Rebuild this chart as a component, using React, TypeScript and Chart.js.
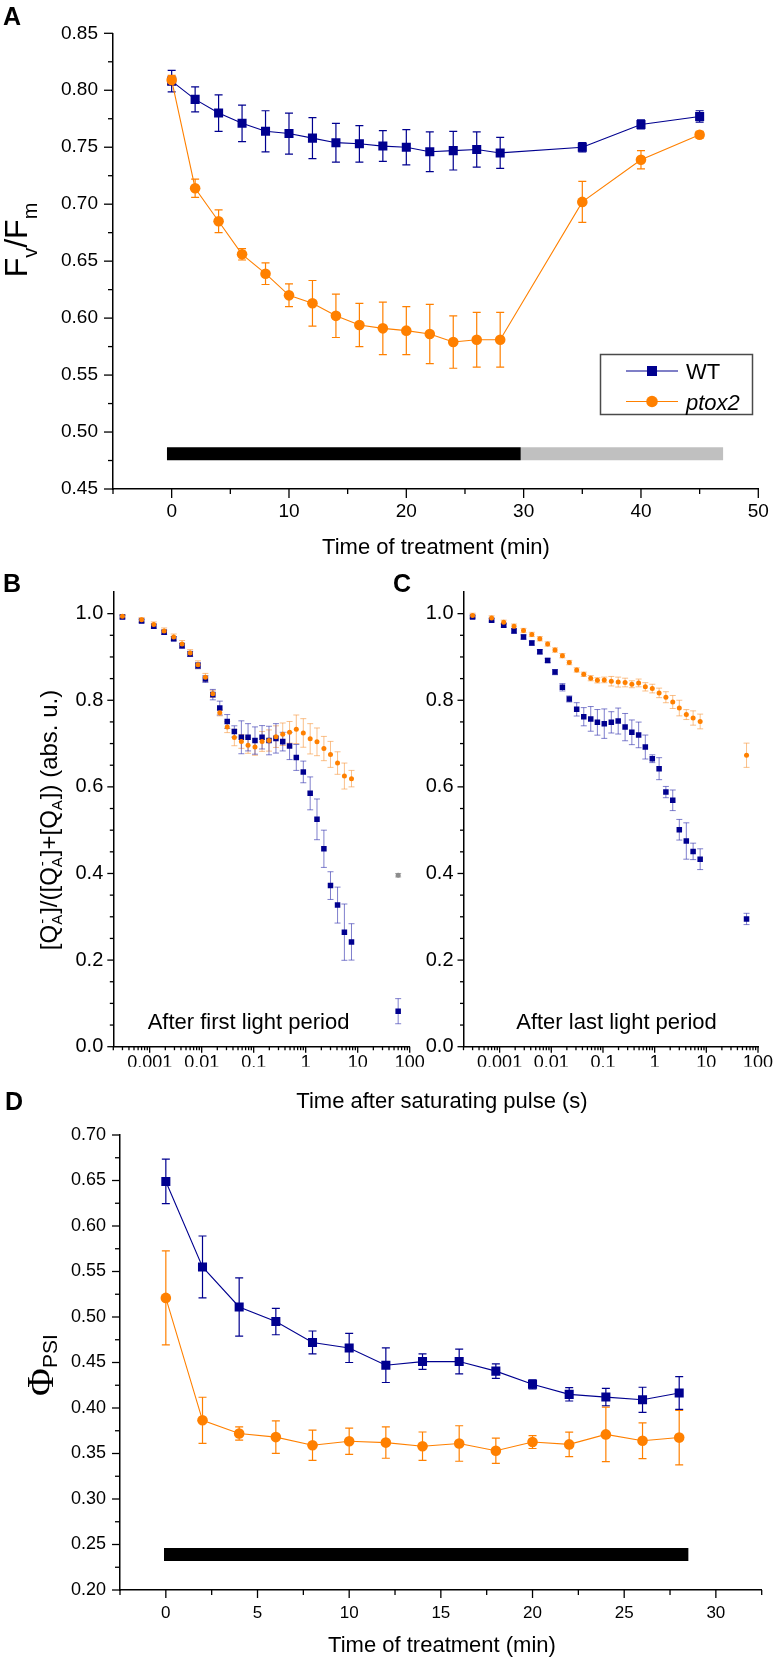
import React, { useEffect, useRef } from 'react';
import { Chart, registerables } from 'chart.js';
Chart.register(...registerables);

const FONT = "'Liberation Sans', Arial, Helvetica, sans-serif";
const SERIF = "'Liberation Serif', 'Times New Roman', serif";
const NAVY = '#00008f';
const ORANGE = '#ff8000';

// ---------- Panel A : Fv/Fm ----------
const timeA = [0, 2, 4, 6, 8, 10, 12, 14, 16, 18, 20, 22, 24, 26, 28, 35, 40, 45];
const wtA = [0.808, 0.792, 0.780, 0.771, 0.764, 0.762, 0.758, 0.754, 0.753, 0.751, 0.750, 0.746, 0.747, 0.748, 0.745, 0.750, 0.770, 0.777];
const wtErrA = [0.0095, 0.011, 0.016, 0.016, 0.018, 0.018, 0.018, 0.017, 0.016, 0.0135, 0.0155, 0.0175, 0.017, 0.0155, 0.0136, 0.004, 0.004, 0.005];
const ptoxA = [0.809, 0.714, 0.685, 0.656, 0.639, 0.620, 0.613, 0.602, 0.594, 0.591, 0.589, 0.586, 0.579, 0.581, 0.581, 0.702, 0.739, 0.761];
const ptoxErrA = [0.004, 0.008, 0.010, 0.005, 0.0095, 0.010, 0.020, 0.019, 0.019, 0.023, 0.021, 0.026, 0.023, 0.024, 0.024, 0.018, 0.008, 0.003];
const darkPeriodA = [-0.4, 29.75];
const lightPeriodA = [29.75, 47];
const periodLevelA = 0.481;
const xTicksA = [0, 10, 20, 30, 40, 50];
const xMinorA = [-5, 5, 15, 25, 35, 45];
const yTicksA = [0.45, 0.5, 0.55, 0.6, 0.65, 0.7, 0.75, 0.8, 0.85];
const yMinorA = [0.475, 0.525, 0.575, 0.625, 0.675, 0.725, 0.775, 0.825];

// ---------- Panels B & C : QA- reoxidation ----------
const timeBC = [0.0003, 0.0007, 0.0012, 0.0019, 0.0029, 0.0042, 0.006, 0.0085, 0.0118, 0.0164, 0.0223, 0.031, 0.0425, 0.058, 0.078, 0.106, 0.145, 0.197, 0.268, 0.362, 0.49, 0.66, 0.9, 1.22, 1.65, 2.24, 3.0, 4.1, 5.55, 7.6, 60];
const wtB = [0.992, 0.983, 0.971, 0.957, 0.942, 0.926, 0.907, 0.880, 0.849, 0.813, 0.782, 0.751, 0.728, 0.7145, 0.7145, 0.707, 0.7145, 0.707, 0.712, 0.7045, 0.6945, 0.668, 0.6345, 0.585, 0.525, 0.457, 0.372, 0.327, 0.2645, 0.242, 0.082];
const wtErrB = [0.004, 0.004, 0.005, 0.005, 0.005, 0.006, 0.006, 0.007, 0.008, 0.012, 0.016, 0.016, 0.013, 0.038, 0.0315, 0.0315, 0.027, 0.033, 0.034, 0.0215, 0.0315, 0.03, 0.025, 0.038, 0.047, 0.043, 0.032, 0.0415, 0.065, 0.042, 0.029];
const ptoxB = [0.994, 0.986, 0.975, 0.960, 0.946, 0.930, 0.909, 0.882, 0.853, 0.815, 0.771, 0.738, 0.714, 0.705, 0.696, 0.692, 0.705, 0.707, 0.716, 0.7215, 0.726, 0.733, 0.7245, 0.711, 0.704, 0.6885, 0.675, 0.655, 0.625, 0.619, 0.396];
const ptoxErrB = [0.004, 0.005, 0.006, 0.007, 0.007, 0.008, 0.008, 0.009, 0.009, 0.008, 0.007, 0.0127, 0.019, 0.016, 0.0185, 0.019, 0.023, 0.0245, 0.025, 0.026, 0.025, 0.033, 0.033, 0.035, 0.032, 0.028, 0.030, 0.026, 0.030, 0.019, 0.004];
const wtC = [0.992, 0.985, 0.973, 0.960, 0.946, 0.932, 0.912, 0.892, 0.865, 0.830, 0.803, 0.779, 0.762, 0.757, 0.749, 0.746, 0.749, 0.752, 0.738, 0.726, 0.720, 0.692, 0.665, 0.642, 0.588, 0.569, 0.501, 0.475, 0.451, 0.433, 0.295];
const wtErrC = [0.003, 0.004, 0.004, 0.005, 0.005, 0.005, 0.005, 0.005, 0.006, 0.0085, 0.007, 0.0154, 0.021, 0.0285, 0.0296, 0.034, 0.0246, 0.030, 0.0315, 0.0285, 0.0296, 0.0277, 0.009, 0.0254, 0.013, 0.0238, 0.0238, 0.042, 0.019, 0.024, 0.013];
const ptoxC = [0.996, 0.990, 0.980, 0.971, 0.961, 0.952, 0.942, 0.930, 0.916, 0.903, 0.887, 0.870, 0.860, 0.851, 0.846, 0.847, 0.844, 0.842, 0.841, 0.837, 0.840, 0.831, 0.827, 0.817, 0.807, 0.796, 0.782, 0.767, 0.759, 0.751, 0.673];
const ptoxErrC = [0.005, 0.005, 0.005, 0.005, 0.005, 0.005, 0.005, 0.005, 0.005, 0.005, 0.005, 0.005, 0.005, 0.006, 0.006, 0.0065, 0.011, 0.0115, 0.010, 0.008, 0.009, 0.0096, 0.010, 0.011, 0.0127, 0.015, 0.018, 0.0115, 0.0165, 0.017, 0.028];
const xTicksBC = [0.001, 0.01, 0.1, 1, 10, 100];
const logDecades = [0.0001, 0.001, 0.01, 0.1, 1, 10];
const logMultipliers = [2, 3, 4, 5, 6, 7, 8, 9];
const yTicksBC = [0, 0.2, 0.4, 0.6, 0.8, 1.0];
const yMinorBC = [0.05, 0.1, 0.15, 0.25, 0.3, 0.35, 0.45, 0.5, 0.55, 0.65, 0.7, 0.75, 0.85, 0.9, 0.95];

// ---------- Panel D : PSI yield ----------
const timeD = [0, 2, 4, 6, 8, 10, 12, 14, 16, 18, 20, 22, 24, 26, 28];
const wtD = [0.649, 0.555, 0.511, 0.495, 0.472, 0.466, 0.447, 0.451, 0.451, 0.4405, 0.426, 0.415, 0.412, 0.409, 0.4165];
const wtErrD = [0.0245, 0.034, 0.032, 0.0145, 0.0126, 0.016, 0.019, 0.0085, 0.0136, 0.008, 0.005, 0.0073, 0.0095, 0.0138, 0.018];
const ptoxD = [0.521, 0.3865, 0.372, 0.368, 0.359, 0.3634, 0.362, 0.358, 0.361, 0.353, 0.3626, 0.360, 0.371, 0.364, 0.3675];
const ptoxErrD = [0.0517, 0.0253, 0.0073, 0.0178, 0.0166, 0.0144, 0.0172, 0.0156, 0.0195, 0.0138, 0.0071, 0.0134, 0.030, 0.0197, 0.030];
const darkPeriodD = [-0.1, 28.5];
const periodLevelD = 0.239;
const xTicksD = [0, 5, 10, 15, 20, 25, 30];
const xMinorD = [-2.5, 2.5, 7.5, 12.5, 17.5, 22.5, 27.5, 32.5];
const yTicksD = [0.2, 0.25, 0.3, 0.35, 0.4, 0.45, 0.5, 0.55, 0.6, 0.65, 0.7];
const yMinorD = [0.225, 0.275, 0.325, 0.375, 0.425, 0.475, 0.525, 0.575, 0.625, 0.675];

// ---------- helpers ----------
const pts = (xs: number[], ys: number[]) => xs.map((x, i) => ({ x, y: ys[i] }));

function axis(o: any) {
  return {
    type: o.type || 'linear',
    min: o.min,
    max: o.max,
    grid: { display: false, drawTicks: false },
    border: { display: true, color: '#000', width: 1.5 },
    ticks: {
      color: '#000',
      font: { family: FONT, size: o.size },
      padding: o.pad,
      autoSkip: false,
      maxRotation: 0,
      minRotation: 0,
      callback: (v: any) => o.fmt(Number(v)),
    },
    afterBuildTicks: (s: any) => {
      s.ticks = o.ticks.map((v: number) => ({ value: v }));
    },
    afterFit: (s: any) => {
      if (o.horiz) s.height = o.thick;
      else s.width = o.thick;
      s.paddingLeft = 0;
      s.paddingRight = 0;
      s.paddingTop = 0;
      s.paddingBottom = 0;
    },
  };
}

const errBars = (cap: number, lw: number) => ({
  id: 'errBars',
  beforeDatasetsDraw(chart: any) {
    const ctx = chart.ctx;
    const xs = chart.scales.x;
    const ys = chart.scales.y;
    chart.data.datasets.forEach((ds: any) => {
      if (!ds.errors) return;
      ds.data.forEach((p: any, j: number) => {
        const e = ds.errors[j];
        const x = xs.getPixelForValue(p.x);
        const y1 = ys.getPixelForValue(p.y + e);
        const y2 = ys.getPixelForValue(p.y - e);
        ctx.save();
        ctx.strokeStyle = Array.isArray(ds.errColor) ? ds.errColor[j] : ds.errColor;
        ctx.lineWidth = lw;
        ctx.beginPath();
        ctx.moveTo(x, y1);
        ctx.lineTo(x, y2);
        ctx.moveTo(x - cap, y1);
        ctx.lineTo(x + cap, y1);
        ctx.moveTo(x - cap, y2);
        ctx.lineTo(x + cap, y2);
        ctx.stroke();
        ctx.restore();
      });
    });
  },
});

const tickMarks = (o: any) => ({
  id: 'tickMarks',
  afterDraw(chart: any) {
    const ctx = chart.ctx;
    const { left, bottom } = chart.chartArea;
    ctx.save();
    ctx.strokeStyle = '#000';
    ctx.lineWidth = 1.3;
    const draw = (ax: string, vals: number[], len: number) => {
      const sc = chart.scales[ax];
      vals.forEach((v) => {
        const p = sc.getPixelForValue(v);
        ctx.beginPath();
        if (ax === 'x') {
          ctx.moveTo(p, bottom);
          ctx.lineTo(p, bottom + len);
        } else {
          ctx.moveTo(left, p);
          ctx.lineTo(left - len, p);
        }
        ctx.stroke();
      });
    };
    draw('x', o.xMajor, o.major);
    draw('x', o.xMinor, o.minor);
    draw('y', o.yMajor, o.major);
    draw('y', o.yMinor, o.minor);
    ctx.restore();
  },
});

const legendA = {
  id: 'legendA',
  afterDraw(chart: any) {
    const ctx = chart.ctx;
    ctx.save();
    ctx.lineWidth = 1.5;
    ctx.strokeStyle = '#4a4a4a';
    ctx.strokeRect(600.5, 354.5, 152, 60);
    const rows = [
      { y: 371, color: NAVY, style: 'rect', label: 'WT', italic: false },
      { y: 401.5, color: ORANGE, style: 'circle', label: 'ptox2', italic: true },
    ];
    rows.forEach((r) => {
      ctx.strokeStyle = r.color;
      ctx.lineWidth = 1.2;
      ctx.beginPath();
      ctx.moveTo(626, r.y);
      ctx.lineTo(678, r.y);
      ctx.stroke();
      ctx.fillStyle = r.color;
      if (r.style === 'rect') ctx.fillRect(652 - 5, r.y - 5, 10, 10);
      else {
        ctx.beginPath();
        ctx.arc(652, r.y, 5.8, 0, Math.PI * 2);
        ctx.fill();
      }
      ctx.fillStyle = '#000';
      ctx.font = `${r.italic ? 'italic ' : ''}22px ${FONT}`;
      ctx.textBaseline = 'alphabetic';
      ctx.fillText(r.label, 686, r.y + 8);
    });
    ctx.restore();
  },
};

const baseOpts = (padding: any, scales: any) => ({
  responsive: false,
  animation: false,
  events: [],
  layout: { padding },
  plugins: { legend: { display: false }, tooltip: { enabled: false } },
  scales,
});

function makeA() {
  return {
    type: 'line',
    data: {
      datasets: [
        {
          data: pts(timeA, ptoxA), errors: ptoxErrA, errColor: ORANGE, order: 1,
          borderColor: ORANGE, borderWidth: 1.1, pointStyle: 'circle', pointRadius: 5.3,
          pointBackgroundColor: ORANGE, pointBorderWidth: 0,
        },
        {
          data: pts(timeA, wtA), errors: wtErrA, errColor: NAVY, order: 2,
          borderColor: NAVY, borderWidth: 1.1, pointStyle: 'rect', pointRadius: 6.4,
          pointBackgroundColor: NAVY, pointBorderWidth: 0,
        },
        {
          data: darkPeriodA.map((x) => ({ x, y: periodLevelA })), order: 3,
          borderColor: '#000', borderWidth: 13, pointRadius: 0, borderCapStyle: 'butt',
        },
        {
          data: lightPeriodA.map((x) => ({ x, y: periodLevelA })), order: 4,
          borderColor: '#c0c0c0', borderWidth: 13, pointRadius: 0, borderCapStyle: 'butt',
        },
      ],
    },
    options: baseOpts({ left: 0, top: 33.3, right: 15.7, bottom: 31 }, {
      x: axis({ min: -5, max: 50, ticks: xTicksA, fmt: (v: number) => String(v), size: 19, pad: 11.3, thick: 60, horiz: true }),
      y: axis({ min: 0.45, max: 0.85, ticks: yTicksA, fmt: (v: number) => v.toFixed(2), size: 19, pad: 15, thick: 113, horiz: false }),
    }),
    plugins: [errBars(4, 1.2), tickMarks({ xMajor: xTicksA, xMinor: xMinorA, yMajor: yTicksA, yMinor: yMinorA, major: 9, minor: 5 }), legendA],
  };
}

const logMinor = () => {
  const out: number[] = [];
  logDecades.forEach((d) => logMultipliers.forEach((m) => {
    const v = d * m;
    if (v >= 0.0002 && v <= 100) out.push(v);
  }));
  return out;
};

function makeBC(wt: number[], wtErr: number[], ptox: number[], ptoxErr: number[], yWidth: number, padRight: number, grayLast: boolean) {
  const n = ptox.length;
  const ptoxColors = ptox.map((_, i) => (grayLast && i === n - 1 ? '#8c8c8c' : ORANGE));
  const ptoxErrColors = ptox.map((_, i) => (grayLast && i === n - 1 ? 'rgba(130,130,130,0.7)' : 'rgba(246,150,60,0.6)'));
  return {
    type: 'line',
    data: {
      datasets: [
        {
          data: pts(timeBC, ptox), errors: ptoxErr, errColor: ptoxErrColors, order: 1, showLine: false,
          pointStyle: 'circle', pointRadius: 2.5, pointBackgroundColor: ptoxColors, pointBorderWidth: 0,
        },
        {
          data: pts(timeBC, wt), errors: wtErr, errColor: 'rgba(50,50,175,0.62)', order: 2, showLine: false,
          pointStyle: 'rect', pointRadius: 3.9, pointBackgroundColor: NAVY, pointBorderWidth: 0,
        },
      ],
    },
    options: baseOpts({ left: 0, top: 32, right: padRight, bottom: 13.3 }, {
      x: axis({ type: 'logarithmic', min: 0.0002, max: 100, ticks: xTicksBC, fmt: (v: number) => String(v), size: 18, pad: 6, thick: 20, horiz: true }),
      y: axis({ min: 0, max: 1.05, ticks: yTicksBC, fmt: (v: number) => v.toFixed(1), size: 20, pad: 10, thick: yWidth, horiz: false }),
    }),
    plugins: [errBars(3, 1), tickMarks({ xMajor: xTicksBC, xMinor: logMinor(), yMajor: yTicksBC, yMinor: yMinorBC, major: 6, minor: 3.5 })],
  };
}

function makeD() {
  return {
    type: 'line',
    data: {
      datasets: [
        {
          data: pts(timeD, ptoxD), errors: ptoxErrD, errColor: ORANGE, order: 1,
          borderColor: ORANGE, borderWidth: 1.1, pointStyle: 'circle', pointRadius: 5.3,
          pointBackgroundColor: ORANGE, pointBorderWidth: 0,
        },
        {
          data: pts(timeD, wtD), errors: wtErrD, errColor: NAVY, order: 2,
          borderColor: NAVY, borderWidth: 1.1, pointStyle: 'rect', pointRadius: 6.4,
          pointBackgroundColor: NAVY, pointBorderWidth: 0,
        },
        {
          data: darkPeriodD.map((x) => ({ x, y: periodLevelD })), order: 3,
          borderColor: '#000', borderWidth: 13, pointRadius: 0, borderCapStyle: 'butt',
        },
      ],
    },
    options: baseOpts({ left: 0, top: 55, right: 12.3, bottom: 30 }, {
      x: axis({ min: -2.5, max: 32.5, ticks: xTicksD, fmt: (v: number) => String(v), size: 17, pad: 13, thick: 40, horiz: true }),
      y: axis({ min: 0.2, max: 0.7, ticks: yTicksD, fmt: (v: number) => v.toFixed(2), size: 18, pad: 14, thick: 120, horiz: false }),
    }),
    plugins: [errBars(4, 1.2), tickMarks({ xMajor: xTicksD, xMinor: xMinorD, yMajor: yTicksD, yMinor: yMinorD, major: 8, minor: 5 })],
  };
}

function ChartBox({ left, top, width, height, make }: any) {
  const ref = useRef<HTMLCanvasElement>(null);
  useEffect(() => {
    const chart = new Chart(ref.current as HTMLCanvasElement, make());
    return () => chart.destroy();
  }, []);
  return <canvas ref={ref} width={width} height={height} style={{ position: 'absolute', left, top, width, height }} />;
}

function Txt({ x, y, size, children, align, bold, italic }: any) {
  const style: any = {
    position: 'absolute', top: y - 0.8465 * size, fontSize: size, lineHeight: size + 'px',
    fontFamily: FONT, whiteSpace: 'nowrap', fontWeight: bold ? 'bold' : 'normal',
    fontStyle: italic ? 'italic' : 'normal', color: '#000',
  };
  if (align === 'center') {
    style.left = x - 400;
    style.width = 800;
    style.textAlign = 'center';
  } else style.left = x;
  return <div style={style}>{children}</div>;
}

function RotTxt({ cx, cy, size, family, children }: any) {
  const w = 400;
  return (
    <div style={{
      position: 'absolute', left: cx - w / 2, top: cy - size / 2, width: w, height: size,
      lineHeight: size + 'px', fontSize: size, fontFamily: family || FONT, textAlign: 'center',
      whiteSpace: 'nowrap', transform: 'rotate(-90deg)', transformOrigin: '50% 50%', color: '#000',
    }}>{children}</div>
  );
}

function SubSup({ sub, sup, fs, subDy, supDy, w }: any) {
  return (
    <span style={{ position: 'relative', display: 'inline-block', width: w, height: 0, lineHeight: 0, verticalAlign: 'baseline' }}>
      <span style={{ position: 'absolute', left: 0, top: subDy - 0.8465 * fs, fontSize: fs, lineHeight: fs + 'px', fontFamily: FONT }}>{sub}</span>
      {sup ? <span style={{ position: 'absolute', left: 1, top: supDy - 0.8465 * fs, fontSize: fs, lineHeight: fs + 'px', fontFamily: FONT }}>{sup}</span> : null}
    </span>
  );
}

export default function App() {
  const qa = (withMinus: boolean) => <SubSup sub="A" sup={withMinus ? '-' : null} fs={15} subDy={5} supDy={-10} w={11} />;
  return (
    <div style={{ position: 'absolute', left: 0, top: 0, width: 774, height: 1660, background: '#fff', overflow: 'hidden' }}>
      <ChartBox left={0} top={0} width={774} height={580} make={makeA} />
      <ChartBox left={0} top={560} width={440} height={520} make={() => makeBC(wtB, wtErrB, ptoxB, ptoxErrB, 113.3, 30.3, true)} />
      <ChartBox left={415} top={560} width={359} height={520} make={() => makeBC(wtC, wtErrC, ptoxC, ptoxErrC, 48.5, 16, false)} />
      <ChartBox left={0} top={1080} width={774} height={580} make={makeD} />

      <Txt x={3} y={25} size={25} bold>A</Txt>
      <Txt x={3} y={592} size={25} bold>B</Txt>
      <Txt x={393} y={592} size={25} bold>C</Txt>
      <Txt x={5} y={1110} size={25} bold>D</Txt>

      <RotTxt cx={15.5} cy={240} size={32}>
        F<span style={{ fontSize: 20, position: 'relative', top: 10, lineHeight: 0 }}>v</span>/F<span style={{ fontSize: 20, position: 'relative', top: 10, lineHeight: 0 }}>m</span>
      </RotTxt>
      <Txt x={436} y={555} size={22} align="center">Time of treatment (min)</Txt>

      <RotTxt cx={48.8} cy={820} size={24}>
        [Q{qa(true)}]/([Q{qa(true)}]+[Q{qa(false)}]) (abs. u.)
      </RotTxt>
      <Txt x={248.5} y={1030} size={22} align="center">After first light period</Txt>
      <Txt x={616.5} y={1030} size={22} align="center">After last light period</Txt>
      <Txt x={442} y={1109} size={22} align="center">Time after saturating pulse (s)</Txt>

      <RotTxt cx={40} cy={1363} size={38} family={SERIF}>
        Φ<SubSup sub="PSI" fs={21} subDy={4} w={38} />
      </RotTxt>
      <Txt x={442} y={1653} size={22} align="center">Time of treatment (min)</Txt>
    </div>
  );
}
